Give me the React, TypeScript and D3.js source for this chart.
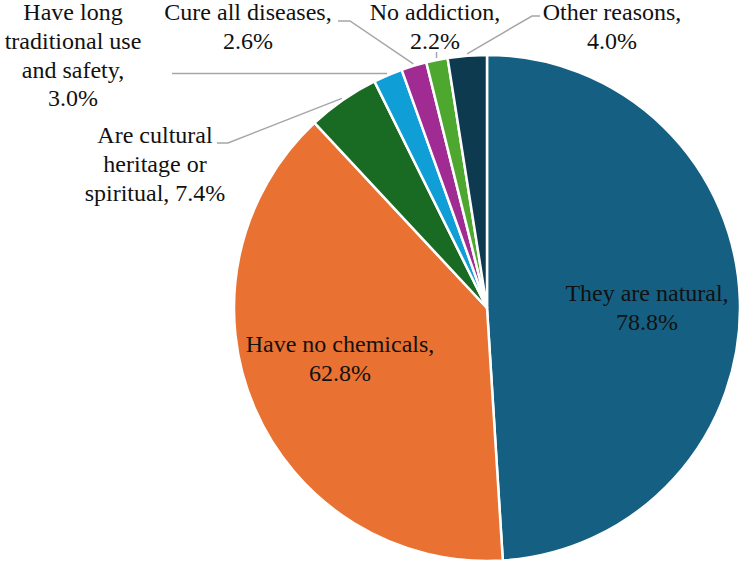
import * as d3 from "d3";
import { useEffect, useRef } from "react";

// reasons for choosing herbal medicine (% of respondents, multiple answers)
const reasons = [
  "They are natural,",
  "Have no chemicals,",
  "Are cultural heritage or spiritual,",
  "Have long traditional use and safety,",
  "Cure all diseases,",
  "No addiction,",
  "Other reasons,",
];
const shares = [78.8, 62.8, 7.4, 3.0, 2.6, 2.2, 4.0];
const sliceColors = ["#156082", "#E97132", "#196B24", "#0F9ED5", "#A02B93", "#4EA72E", "#0E3A50"];

// how each label is broken into lines
const labelLines = [
  ["They are natural,", "78.8%"],
  ["Have no chemicals,", "62.8%"],
  ["Are cultural", "heritage or", "spiritual, 7.4%"],
  ["Have long", "traditional use", "and safety,", "3.0%"],
  ["Cure all diseases,", "2.6%"],
  ["No addiction,", "2.2%"],
  ["Other reasons,", "4.0%"],
];

// label placement: x centre, first baseline, leader line start/elbow (null = inside)
const labelPos = [
  { x: 647, y: 301, lead: null },
  { x: 340, y: 352, lead: null },
  { x: 155, y: 143, lead: [[217, 143], [228, 143]] },
  { x: 73, y: 20, lead: [[172, 0]] },
  { x: 248, y: 20, lead: [[338, 21], [350, 21]] },
  { x: 435, y: 20, lead: [[0, 52]] },
  { x: 612, y: 20, lead: [[540, 16], [532, 16]] },
];

export default function App() {
  const svgRef = useRef(null);
  const W = 744;
  const H = 565;
  const cx = 487;
  const cy = 308;
  const r = 253;
  const lineH = 28.8;

  function draw() {
    const svg = d3.select(svgRef.current);
    svg.selectAll("*").remove();

    const pie = d3.pie().sort(null).value((d) => d);
    const arcs = pie(shares);
    const arc = d3.arc().innerRadius(0).outerRadius(r);
    const edge = d3.arc().innerRadius(r + 2).outerRadius(r + 2);

    svg
      .append("g")
      .attr("transform", `translate(${cx},${cy})`)
      .selectAll("path")
      .data(arcs)
      .join("path")
      .attr("d", arc)
      .attr("fill", (d, i) => sliceColors[i])
      .attr("stroke", "#fff")
      .attr("stroke-width", 2.5);

    arcs.forEach((a, i) => {
      const p = labelPos[i];
      if (!p.lead) return;
      const [ex, ey] = edge.centroid(a);
      const end = [cx + ex, cy + ey];
      const pts = p.lead.map((q) => [q[0], q[1]]);
      // horizontal lead takes the y of the slice edge, vertical tick its x
      if (pts.length === 1 && pts[0][1] === 0) pts[0][1] = end[1];
      if (pts.length === 1 && pts[0][0] === 0) pts[0][0] = end[0];
      pts.push(end);
      svg
        .append("path")
        .attr("d", d3.line()(pts))
        .attr("fill", "none")
        .attr("stroke", "#A6A6A6")
        .attr("stroke-width", 1.5);
    });

    labelLines.forEach((lines, i) => {
      lines.forEach((t, j) => {
        svg
          .append("text")
          .attr("x", labelPos[i].x)
          .attr("y", labelPos[i].y + j * lineH)
          .attr("text-anchor", "middle")
          .attr("font-family", "Liberation Serif")
          .attr("font-size", 24)
          .attr("fill", "#111")
          .text(t);
      });
    });
  }

  useEffect(draw, []);

  return (
    <div style={{ position: "absolute", left: 0, top: 0 }}>
      <svg ref={svgRef} width={W} height={H} style={{ display: "block", background: "#fff" }}></svg>
    </div>
  );
}
